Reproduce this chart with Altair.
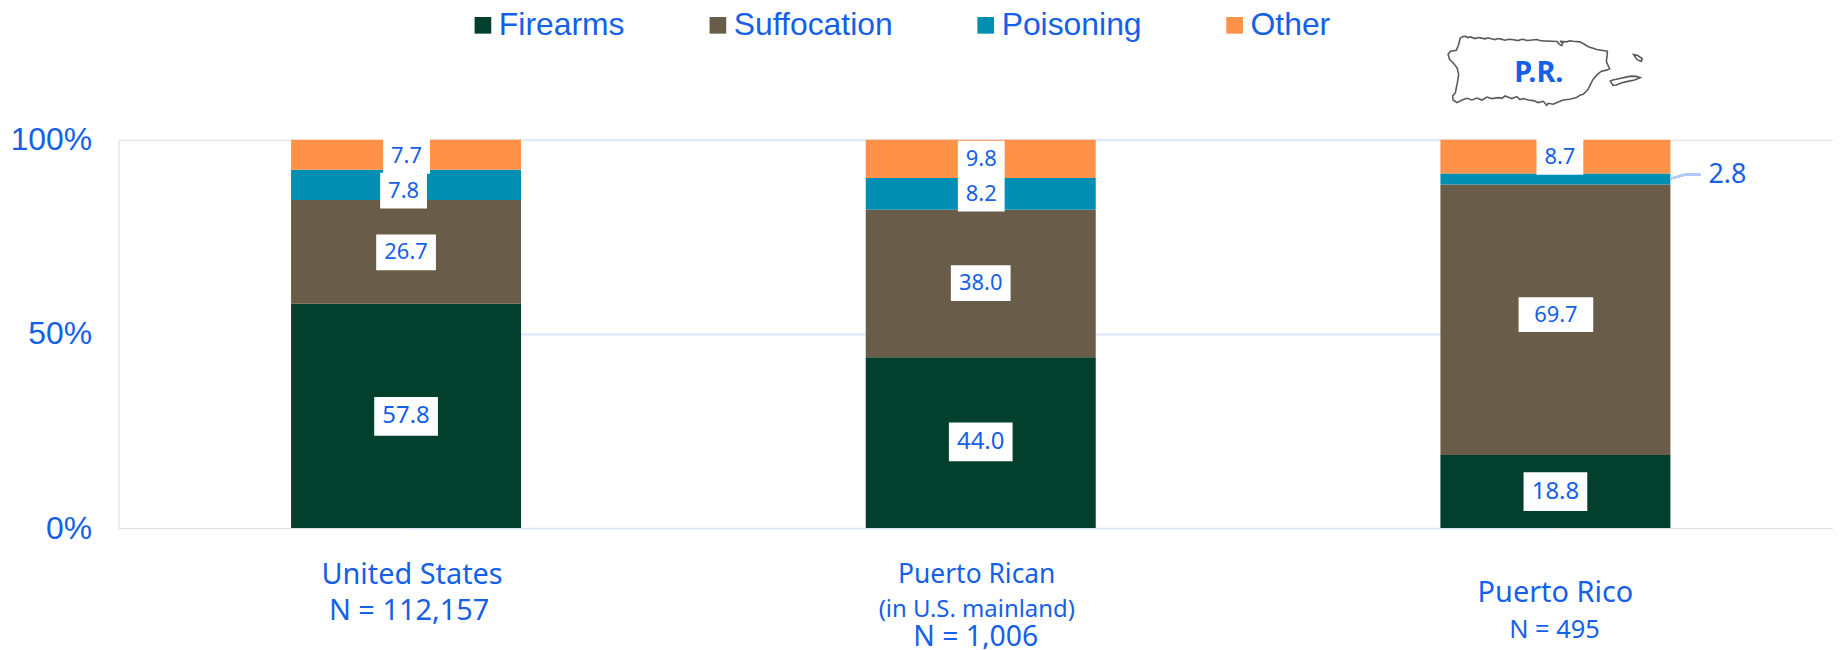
import altair as alt
import pandas as pd

# ---- data ----
categories = ["United States", "Puerto Rican", "Puerto Rico"]
causes = ["Firearms", "Suffocation", "Poisoning", "Other"]
firearms = [57.8, 44.0, 18.8]
suffocation = [26.7, 38.0, 69.7]
poisoning = [7.8, 8.2, 2.8]
other = [7.7, 9.8, 8.7]
colors = ["#02402D", "#695D49", "#008EB2", "#FF9248"]

# value labels: category, text, height on the axis, box w, box h, shift, font size
value_labels = [
    ("United States", "7.7", 95.9, 47, 36, 0.5, 22),
    ("United States", "7.8", 86.9, 47, 36, -2.5, 22),
    ("United States", "26.7", 71.0, 60, 36, 0, 22),
    ("United States", "57.8", 28.8, 64, 39, 0, 24),
    ("Puerto Rican", "9.8", 95.0, 47, 37, 0.5, 22),
    ("Puerto Rican", "8.2", 86.0, 47, 35, 0.5, 22),
    ("Puerto Rican", "38.0", 63.1, 60, 36, 0, 22),
    ("Puerto Rican", "44.0", 22.2, 64, 39, 0, 24),
    ("Puerto Rico", "8.7", 95.6, 47, 36, 4.5, 22),
    ("Puerto Rico", "69.7", 55.0, 75, 35, 0.5, 22),
    ("Puerto Rico", "18.8", 9.4, 64, 39, 0, 24),
]

# lines under the bars: category, text, y centre under the plot top, font size, shift
category_lines = [
    ("United States", "United States", 437, 29, 6),
    ("United States", "N = 112,157", 473, 29, 3),
    ("Puerto Rican", "Puerto Rican", 437, 26.5, -4),
    ("Puerto Rican", "(in U.S. mainland)", 472, 24, -4),
    ("Puerto Rican", "N = 1,006", 499, 28.5, -5),
    ("Puerto Rico", "Puerto Rico", 455, 29, 0),
    ("Puerto Rico", "N = 495", 492, 25.5, -1),
]

# outline of the island, in picture units around its centre
island = [(-255,-95),(-247,-99),(-240,-100),(-232,-96),(-225,-98),(-210,-93),(-202,-96),(-195,-95),
          (-180,-92),(-172,-95),(-165,-93),(-150,-90),(-142,-93),(-135,-92),(-120,-88),(-110,-91),
          (-100,-90),(-80,-87),(-72,-90),(-65,-91),(-55,-87),(-45,-88),(-25,-90),(-15,-87),(-5,-86),
          (20,-85),(37,-84),(41,-78),(50,-72),(54,-80),(45,-85),(65,-83),(75,-86),(85,-85),(105,-83),
          (120,-75),(128,-70),(135,-67),(150,-62),(155,-60),(170,-58),(188,-55),(187,-40),(185,-25),
          (190,-12),(195,-2),(185,2),(170,5),(158,15),(145,30),(137,45),(130,60),(122,68),(115,75),
          (105,78),(95,85),(75,90),(55,92),(40,98),(25,105),(10,102),(5,108),(-5,96),(-20,100),
          (-35,94),(-50,92),(-65,88),(-75,91),(-85,82),(-100,88),(-110,84),(-120,80),(-130,87),
          (-140,85),(-160,88),(-175,83),(-190,92),(-205,86),(-220,92),(-235,87),(-250,92),(-265,100),
          (-277,92),(-278,80),(-270,70),(-267,55),(-263,35),(-260,15),(-265,-5),(-275,-18),(-287,-30),
          (-292,-45),(-285,-55),(-267,-58),(-260,-75)]
culebra = [(267,-45),(280,-42),(293,-32),(290,-24),(277,-30)]
vieques = [(197,35),(205,32),(222,28),(240,24),(260,20),(275,21),(287,25),(270,32),(250,36),
           (232,40),(215,47),(205,48)]

BLUE = "#1560E8"
LABEL_FONT = "Noto Sans"
AXIS_FONT = "Liberation Sans"
PX = 3.0


def ring(points):
    return "M" + "L".join(f"{x / PX:.1f},{y / PX:.1f}" for x, y in points) + "Z"


map_path = ring(island) + ring(culebra) + ring(vieques)

rows = []
for i, cat in enumerate(categories):
    for j, (cause, series) in enumerate(zip(causes, [firearms, suffocation, poisoning, other])):
        rows.append({"category": cat, "cause": cause, "value": series[i], "order": j})
df = pd.DataFrame(rows)

x_enc = alt.X("category:N", axis=None,
              scale=alt.Scale(type="point", domain=categories, range=[288.8, 1443.2], padding=0))
y_scale = alt.Scale(domain=[0, 100])

bars = alt.Chart(df).mark_bar(size=231).encode(
    x=x_enc,
    y=alt.Y("value:Q", stack="zero", scale=y_scale,
            axis=alt.Axis(values=[0, 50, 100], labelExpr="datum.value + '%'", title=None,
                          domain=False, ticks=False, labelPadding=27, grid=True,
                          gridColor="#DCE6FA", gridWidth=2, labelColor=BLUE,
                          labelFont=AXIS_FONT, labelFontSize=32)),
    color=alt.Color("cause:N", scale=alt.Scale(domain=causes, range=colors),
                    legend=alt.Legend(orient="none", legendX=350, legendY=-131, direction="horizontal",
                                      columns=4, columnPadding=77, title=None, symbolType="square",
                                      symbolSize=280, symbolStrokeWidth=0, labelFont=AXIS_FONT,
                                      labelFontSize=32, labelColor=BLUE, labelOffset=0, padding=0)),
    order=alt.Order("order:Q"),
)

layers = [bars]
for cat, text, pos, w, h, shift, fs in value_labels:
    row = alt.Data(values=[{"category": cat, "pos": pos, "text": text}])
    layers.append(alt.Chart(row).mark_rect(color="white", width=w, height=h, xOffset=shift).encode(
        x=x_enc, y=alt.Y("pos:Q", scale=y_scale)))
    layers.append(alt.Chart(row).mark_text(color=BLUE, font=LABEL_FONT, fontSize=fs, dx=shift).encode(
        x=x_enc, y=alt.Y("pos:Q", scale=y_scale), text="text:N"))

for cat, text, y, fs, shift in category_lines:
    row = alt.Data(values=[{"category": cat, "text": text}])
    layers.append(alt.Chart(row).mark_text(color=BLUE, font=LABEL_FONT, fontSize=fs, dx=shift).encode(
        x=x_enc, y=alt.value(y), text="text:N"))

# leader of the small 2.8 slice and its label
layers.append(alt.Chart(df).mark_rule(color="#AFCBFA", strokeWidth=2).encode(
    x=alt.value(1559), x2=alt.value(1573), y=alt.value(39), y2=alt.value(35)))
layers.append(alt.Chart(df).mark_rule(color="#AFCBFA", strokeWidth=2).encode(
    x=alt.value(1573), x2=alt.value(1589), y=alt.value(35), y2=alt.value(35)))
layers.append(alt.Chart(alt.Data(values=[{"text": "2.8"}])).mark_text(
    color=BLUE, font=LABEL_FONT, fontSize=27).encode(
    x=alt.value(1616), y=alt.value(35), text="text:N"))

# island map with its label
layers.append(alt.Chart(alt.Data(values=[{"m": 1}])).mark_point(
    shape=map_path, size=4, filled=False, stroke="#5A5A5A", strokeWidth=1.6, opacity=1).encode(
    x=alt.value(1432.7), y=alt.value(-70.7)))
layers.append(alt.Chart(alt.Data(values=[{"text": "P.R."}])).mark_text(
    color=BLUE, font=LABEL_FONT, fontSize=29, fontWeight="bold").encode(
    x=alt.value(1426.5), y=alt.value(-67), text="text:N"))

chart = alt.layer(*layers).properties(
    width=1722, height=390,
    padding={"left": 111, "top": 131, "right": 0, "bottom": 120},
    autosize=alt.AutoSizeParams(type="none"),
).configure_view(stroke=None).configure(background="white")

chart.save("out.html", embed_options={"renderer": "svg", "actions": False})
